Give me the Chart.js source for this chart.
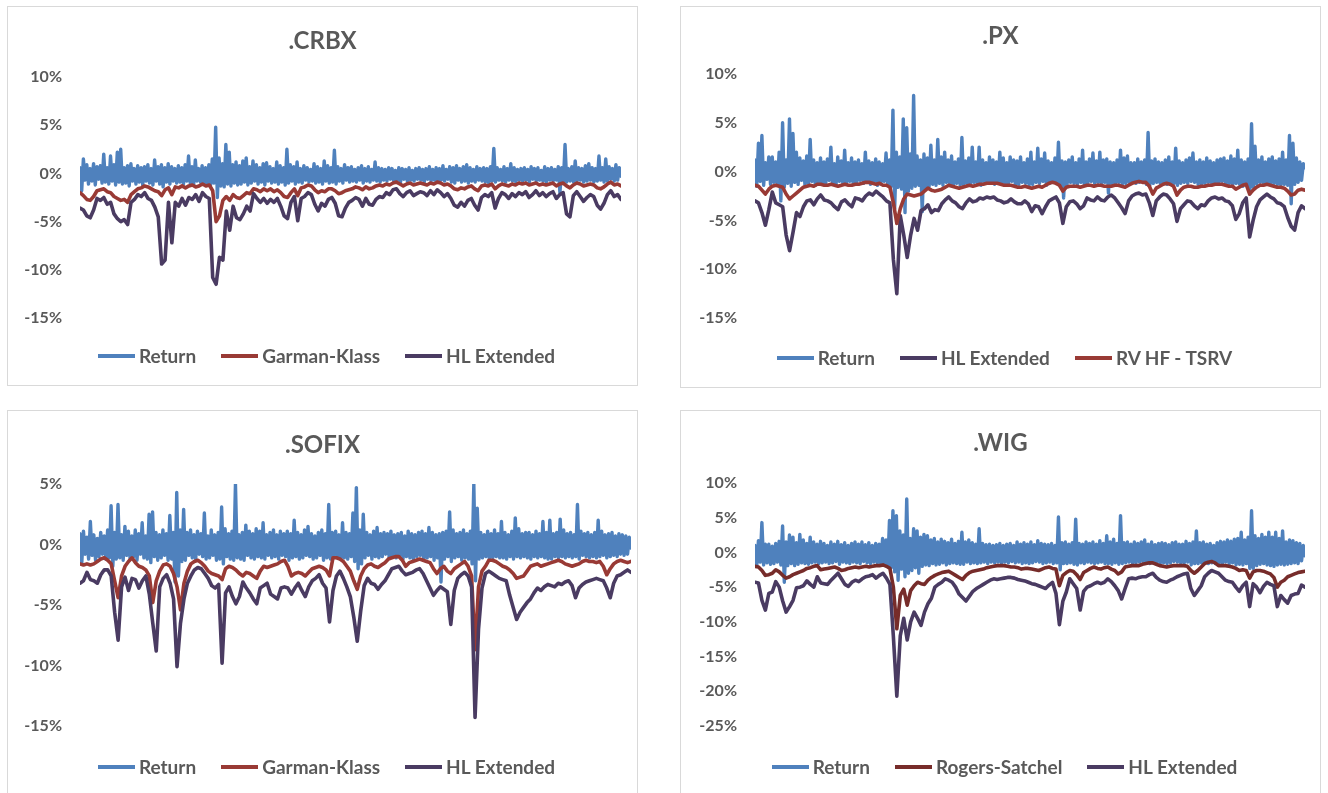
<!DOCTYPE html>
<html>
<head>
<meta charset="utf-8">
<script src="https://cdn.jsdelivr.net/npm/chart.js@4.4.1/dist/chart.umd.min.js"></script>
<style>
body{margin:0;width:1328px;height:793px;overflow:hidden;position:relative;background:#fff;font-family:Lato,"Open Sans",sans-serif}
.panel{position:absolute;border:1px solid #d9d9d9;box-sizing:border-box}
canvas{position:absolute}
.ttl{position:absolute;text-align:center;font-weight:bold;font-size:24px;line-height:28px;color:#595959}
.leg{position:absolute;display:flex;justify-content:center;gap:25px;font-weight:bold;font-size:19px;line-height:22px;color:#595959}
.leg span{display:flex;align-items:center;white-space:nowrap}
.leg i{display:inline-block;width:37px;height:4px;margin-right:4px}
</style>
</head>
<body>

<div class="panel" style="left:7px;top:6px;width:631px;height:380px"></div>
<div class="panel" style="left:680px;top:6px;width:641px;height:382px"></div>
<div class="panel" style="left:7px;top:410px;width:631px;height:400px"></div>
<div class="panel" style="left:680px;top:410px;width:641px;height:400px"></div>

<canvas id="c1" style="left:8px;top:7px" width="629" height="378"></canvas>
<canvas id="c2" style="left:681px;top:7px" width="639" height="380"></canvas>
<canvas id="c3" style="left:8px;top:411px" width="629" height="382"></canvas>
<canvas id="c4" style="left:681px;top:411px" width="639" height="382"></canvas>

<script>

/* ---------------- COLOURS ---------------- */

const blue = "#4f81bd"
const red = "#993a35"
const maroon = "#772c2a"
const purple = "#4a3b62"
const textGrey = "#595959"

/* ---------------- AXES (percent) ---------------- */

const tickStep = 5
const crbxRange = [-15, 10]
const pxRange = [-15, 10]
const sofixRange = [-15, 5]
const wigRange = [-25, 10]

/* daily returns are sampled twice as densely as the volatility lines */

/* ---------------- .CRBX ---------------- */

const crbxReturn = [
0.6,-1.8,1.5,-0.7,0.9,-1.1,0.5,-0.8,1.0,-1.2,0.7,-0.6,0.8,-1.0,2.0,-0.9,0.6,-1.1,1.8,-0.8,
0.9,-1.2,2.2,-0.9,2.5,-1.1,0.6,-1.0,0.8,-1.3,1.0,-0.8,0.5,-1.1,0.8,-0.9,0.6,-1.2,0.7,-0.8,
0.9,-1.0,0.5,-1.2,1.4,-0.8,0.7,-1.1,0.9,-1.4,0.6,-0.9,1.0,-1.1,0.7,-0.8,0.5,-1.0,0.8,-0.9,
0.6,-1.1,0.9,-0.8,1.8,-1.0,0.7,-1.2,1.4,-0.8,0.5,-0.9,0.8,-1.1,0.6,-1.0,0.9,-1.2,1.5,-1.0,
4.8,-2.5,1.6,-1.3,1.0,-1.4,3.0,-1.1,2.2,-1.3,0.9,-1.0,1.2,-1.2,0.8,-1.1,1.3,-0.9,1.6,-1.2,
0.7,-1.0,1.3,-0.8,0.9,-1.1,0.6,-0.9,1.0,-1.2,1.1,-0.8,0.7,-1.0,0.5,-0.9,1.2,-1.1,0.8,-0.9,
0.6,-1.2,2.5,-1.0,0.9,-0.8,0.7,-1.1,1.2,-0.9,0.5,-1.0,0.8,-0.7,0.6,-0.9,0.4,-0.8,1.0,-1.0,
0.7,-0.9,0.5,-1.1,1.3,-0.8,0.8,-1.0,0.6,-0.9,2.4,-1.1,0.7,-0.8,0.5,-1.0,0.9,-0.7,0.6,-0.9,
0.7,-0.8,0.4,-0.9,0.6,-0.7,0.8,-1.0,0.5,-0.8,0.7,-0.9,0.4,-0.7,1.2,-0.8,0.6,-0.9,0.5,-0.7,
0.4,-0.8,0.6,-0.6,0.5,-0.8,0.3,-0.7,0.6,-0.9,0.5,-0.6,0.4,-0.8,0.6,-0.7,0.3,-0.8,0.5,-0.6,
0.6,-0.7,0.4,-0.9,0.5,-0.6,0.7,-0.8,0.4,-0.7,0.6,-0.9,0.5,-0.7,0.8,-0.8,0.4,-0.6,0.7,-0.9,
0.6,-1.0,0.8,-0.7,0.5,-0.9,0.7,-0.8,0.9,-1.0,0.6,-0.8,0.4,-0.9,0.7,-0.7,0.5,-0.8,0.6,-0.9,
0.5,-1.0,0.7,-0.8,2.6,-0.9,0.6,-0.7,0.4,-0.8,0.7,-0.9,0.5,-0.7,1.0,-0.8,0.6,-0.9,0.4,-0.7,
0.5,-0.8,0.6,-0.7,0.4,-0.9,0.7,-0.6,0.5,-0.8,0.6,-0.7,0.3,-0.8,0.7,-0.9,0.5,-0.7,0.6,-0.8,
0.4,-0.7,0.7,-2.0,0.6,-1.0,3.0,-0.9,0.5,-0.8,0.7,-0.9,1.3,-0.8,0.6,-0.7,0.5,-0.9,0.8,-0.8,
1.0,-0.7,0.6,-0.9,0.5,-0.8,1.8,-0.7,0.6,-0.9,1.5,-0.8,0.7,-0.6,0.5,-0.8,0.9,-0.7,0.6,-0.3
]

const crbxGarmanKlass = [
-2.0,-2.3,-2.7,-2.8,-2.4,-1.8,-1.7,-1.6,-1.9,-2.0,
-2.4,-2.6,-2.8,-2.7,-3.0,-2.2,-1.9,-1.6,-1.5,-1.3,
-1.4,-1.6,-1.8,-1.9,-2.3,-1.7,-1.5,-2.2,-1.4,-1.5,
-1.3,-1.5,-1.3,-1.2,-1.4,-1.3,-1.1,-1.3,-1.2,-1.8,
-5.0,-4.4,-2.8,-2.4,-2.8,-2.2,-2.5,-2.6,-2.3,-2.0,
-2.1,-1.6,-1.7,-1.9,-1.6,-1.8,-1.6,-1.9,-1.7,-2.0,
-2.4,-2.5,-2.0,-1.6,-2.3,-1.5,-1.4,-1.2,-1.3,-1.7,
-2.0,-1.8,-1.9,-1.6,-1.6,-1.8,-2.1,-2.0,-1.8,-1.7,
-1.6,-1.4,-1.5,-1.7,-1.4,-1.6,-1.5,-1.3,-1.2,-1.3,
-1.1,-1.2,-1.0,-0.9,-1.1,-1.3,-1.1,-1.0,-1.2,-1.1,
-1.0,-1.1,-1.2,-1.0,-1.1,-0.9,-1.0,-1.2,-1.1,-1.3,
-1.6,-1.7,-1.5,-1.6,-1.4,-1.3,-1.6,-1.8,-1.3,-1.2,
-1.3,-1.1,-1.6,-1.3,-1.1,-1.2,-1.3,-1.1,-1.2,-1.0,
-1.1,-1.0,-1.2,-1.1,-1.0,-1.2,-1.1,-1.2,-1.1,-1.0,
-1.3,-1.1,-1.0,-1.3,-1.5,-1.2,-1.0,-1.1,-1.3,-1.2,
-1.1,-1.2,-1.5,-1.6,-1.4,-1.1,-0.9,-1.2,-1.1,-1.3
]

const crbxHL = [
-3.6,-3.8,-4.4,-4.6,-3.8,-2.6,-2.8,-2.5,-3.2,-3.0,
-4.2,-4.7,-5.0,-4.8,-5.3,-3.0,-2.7,-2.2,-2.4,-2.0,
-2.6,-2.8,-3.5,-4.5,-9.4,-9.0,-3.0,-7.2,-3.0,-3.4,
-2.6,-3.3,-2.5,-2.7,-2.2,-2.9,-2.0,-2.4,-2.6,-10.8,
-11.5,-8.7,-9.0,-3.9,-5.9,-3.4,-4.6,-4.8,-4.2,-3.4,
-3.9,-2.1,-2.6,-3.0,-2.6,-3.1,-2.7,-3.0,-2.6,-3.4,
-4.4,-4.7,-3.0,-2.4,-4.9,-2.6,-2.4,-2.0,-2.2,-3.2,
-3.9,-3.1,-3.4,-2.7,-2.5,-3.1,-4.4,-4.5,-3.6,-3.0,
-2.8,-2.5,-2.7,-3.4,-2.6,-3.2,-3.3,-2.7,-2.4,-2.5,
-2.0,-2.2,-1.7,-1.6,-2.1,-2.4,-2.0,-1.8,-2.3,-2.1,
-1.9,-2.0,-2.3,-1.8,-2.2,-1.7,-2.0,-2.4,-2.1,-2.6,
-3.3,-3.5,-3.0,-3.4,-2.8,-2.6,-3.3,-3.8,-2.5,-2.2,
-2.4,-2.0,-3.6,-2.6,-2.0,-2.2,-2.6,-2.1,-2.4,-2.0,
-2.2,-1.9,-2.5,-2.2,-1.8,-2.3,-2.0,-2.4,-2.1,-1.9,
-2.6,-2.2,-2.0,-4.2,-4.5,-2.3,-1.9,-2.4,-2.9,-2.5,
-2.2,-2.4,-3.3,-3.7,-3.1,-2.2,-1.8,-2.4,-2.2,-2.7
]

/* ---------------- .PX ---------------- */

const pxReturn = [
1.2,-1.5,2.9,-1.0,3.7,-1.4,0.9,-0.8,1.5,-1.3,1.5,-1.1,1.0,-1.4,2.0,-3.0,5.0,-1.6,1.2,-1.2,
5.4,-1.5,3.9,-1.1,2.0,-1.3,1.4,-0.9,1.1,-1.4,1.6,-1.2,3.3,-1.0,1.2,-1.4,0.9,-1.1,1.4,-1.2,
1.0,-1.3,1.3,-0.9,2.5,-1.2,0.8,-1.4,1.5,-1.0,1.1,-1.3,2.2,-1.2,0.9,-1.0,1.4,-1.3,1.0,-1.1,
1.2,-0.9,0.8,-1.2,2.0,-1.1,1.1,-1.3,0.9,-1.0,1.3,-1.4,1.0,-1.2,0.8,-1.0,1.9,-1.3,1.2,-1.5,
6.3,-3.8,2.0,-1.6,1.5,-1.8,5.4,-4.2,4.5,-2.0,1.8,-1.7,7.8,-1.5,1.6,-1.4,1.2,-4.1,1.8,-1.8,
1.4,-1.5,2.7,-1.3,1.2,-1.4,3.3,-1.2,1.5,-1.4,2.0,-1.1,1.2,-1.3,1.6,-1.5,1.0,-1.2,1.3,-1.4,
3.5,-1.4,1.1,-1.2,1.4,-1.3,2.5,-1.1,1.0,-1.2,2.5,-1.4,1.2,-1.0,0.9,-1.2,1.5,-1.1,1.2,-1.3,
1.0,-1.2,2.0,-1.1,1.4,-1.3,0.9,-1.2,1.5,-1.0,1.2,-1.4,1.1,-1.3,1.5,-1.1,0.9,-1.2,1.3,-1.4,
2.0,-1.3,1.0,-1.1,2.4,-1.2,1.3,-1.0,1.9,-1.4,1.1,-1.2,0.9,-1.1,1.4,-1.2,3.0,-1.3,1.1,-2.7,
1.0,-1.3,1.2,-1.1,1.5,-1.2,0.9,-1.3,1.3,-1.1,2.2,-1.4,1.0,-1.2,1.3,-1.0,1.9,-1.2,1.1,-1.1,
2.0,-1.3,1.2,-1.1,1.3,-2.2,1.0,-1.2,0.9,-1.3,1.2,-1.1,2.2,-1.3,1.4,-1.2,1.6,-1.1,0.9,-1.0,
0.9,-1.2,1.3,-1.1,1.0,-1.0,1.2,-1.3,4.0,-1.4,1.1,-1.2,1.3,-1.1,1.0,-1.2,0.9,-1.1,1.2,-1.3,
1.5,-1.3,1.0,-1.2,2.4,-1.4,1.1,-1.2,0.9,-1.1,1.2,-1.2,1.4,-1.0,1.9,-1.1,1.0,-1.3,1.2,-1.3,
1.0,-1.2,1.4,-1.1,1.1,-1.3,0.9,-1.1,1.2,-1.2,1.3,-1.0,1.4,-1.3,1.1,-1.2,1.6,-1.4,1.3,-1.2,
2.2,-1.3,1.2,-1.5,1.0,-1.4,1.3,-2.3,4.9,-1.6,2.6,-1.3,1.2,-1.1,1.5,-1.2,1.0,-1.3,1.3,-1.2,
1.5,-1.2,1.1,-1.3,1.3,-1.4,2.0,-1.3,1.2,-1.4,3.7,-3.3,2.9,-1.3,1.4,-1.1,1.0,-0.9,0.8,0.4
]

const pxHL = [
-3.0,-3.2,-4.2,-5.5,-3.9,-2.1,-3.2,-3.4,-3.6,-6.5,
-8.1,-6.2,-4.2,-4.6,-3.6,-3.0,-2.9,-3.4,-2.8,-2.4,
-2.9,-3.0,-3.2,-3.6,-3.9,-3.1,-2.9,-3.3,-3.6,-2.7,
-2.8,-3.0,-2.5,-2.2,-2.4,-2.0,-2.3,-2.6,-3.0,-3.2,
-9.0,-12.5,-4.5,-6.5,-8.8,-6.5,-4.8,-6.0,-4.0,-3.8,
-3.4,-4.2,-3.9,-4.0,-3.3,-2.9,-2.6,-3.0,-3.2,-3.6,
-3.8,-3.2,-2.8,-3.1,-3.0,-2.7,-2.8,-2.6,-2.7,-2.6,
-2.9,-3.0,-3.2,-3.1,-2.8,-3.1,-3.3,-3.3,-3.0,-3.3,
-4.1,-3.5,-3.6,-4.3,-3.6,-3.0,-2.8,-2.6,-3.2,-5.3,
-3.6,-3.1,-3.0,-3.3,-3.8,-3.5,-2.7,-2.9,-3.0,-2.6,
-2.9,-3.0,-2.6,-2.4,-2.7,-3.2,-3.7,-4.3,-3.0,-2.5,
-2.3,-2.2,-2.4,-2.3,-3.2,-4.5,-3.0,-2.6,-2.3,-2.4,
-2.8,-3.3,-5.1,-3.8,-3.4,-3.0,-3.1,-3.5,-3.8,-3.4,
-3.5,-3.0,-2.7,-2.6,-2.8,-2.7,-3.0,-3.1,-3.5,-4.9,
-4.3,-3.2,-2.7,-6.7,-5.0,-3.6,-2.9,-2.6,-2.3,-2.6,
-2.8,-3.2,-3.3,-3.6,-4.7,-5.6,-6.0,-4.2,-3.5,-3.8
]

const pxTsrv = [
-1.4,-1.5,-1.9,-2.3,-1.8,-1.5,-1.4,-1.5,-1.6,-2.3,
-2.8,-2.5,-2.2,-1.9,-1.6,-1.5,-1.4,-1.5,-1.3,-1.3,
-1.4,-1.4,-1.3,-1.4,-1.5,-1.4,-1.3,-1.4,-1.4,-1.3,
-1.3,-1.2,-1.1,-1.1,-1.2,-1.3,-1.2,-1.4,-1.4,-1.6,
-3.2,-5.3,-3.8,-2.8,-2.3,-2.4,-2.5,-2.4,-2.3,-2.0,
-1.7,-1.9,-2.0,-1.9,-1.8,-1.6,-1.4,-1.5,-1.6,-1.7,
-1.6,-1.5,-1.4,-1.5,-1.4,-1.3,-1.3,-1.2,-1.2,-1.2,
-1.2,-1.3,-1.4,-1.4,-1.4,-1.5,-1.6,-1.6,-1.5,-1.6,
-1.7,-1.6,-1.5,-1.6,-1.4,-1.2,-1.1,-1.2,-1.4,-2.0,
-1.6,-1.5,-1.5,-1.5,-1.6,-1.5,-1.4,-1.4,-1.5,-1.4,
-1.4,-1.5,-1.5,-1.5,-1.4,-1.4,-1.5,-1.6,-1.4,-1.2,
-1.1,-1.0,-1.1,-1.1,-1.5,-2.3,-1.7,-1.5,-1.3,-1.2,
-1.3,-1.5,-2.4,-1.9,-1.6,-1.5,-1.5,-1.6,-1.6,-1.5,
-1.5,-1.4,-1.4,-1.3,-1.3,-1.3,-1.4,-1.5,-1.5,-1.8,
-1.6,-1.4,-1.3,-2.3,-1.9,-1.6,-1.4,-1.4,-1.3,-1.4,
-1.5,-1.6,-1.6,-1.7,-2.0,-2.4,-2.3,-1.9,-1.8,-1.9
]

/* ---------------- .SOFIX ---------------- */

const sofixReturn = [
0.9,-1.6,1.1,-0.8,0.6,-1.2,1.9,-0.9,0.8,-1.3,0.5,-1.0,1.0,-0.8,0.7,-1.2,1.2,-1.1,3.2,-1.8,
1.0,-1.2,3.3,-1.1,0.8,-1.3,1.5,-0.9,1.1,-1.2,0.7,-1.0,1.2,-1.3,0.9,-0.8,1.8,-1.1,0.7,-1.2,
2.5,-1.5,2.7,-1.0,1.0,-1.3,0.8,-1.1,1.2,-0.9,0.9,-1.3,2.4,-1.2,1.0,-3.1,4.3,-2.6,1.2,-1.4,
2.9,-1.3,1.0,-0.9,1.2,-1.1,0.8,-1.2,1.1,-0.8,0.9,-1.0,2.6,-1.2,0.7,-1.1,1.2,-0.9,0.8,-1.3,
1.0,-1.2,3.1,-1.6,1.3,-1.0,0.9,-1.2,1.1,-1.3,5.0,-1.1,0.8,-1.2,1.0,-1.3,1.6,-0.9,1.1,-1.1,
0.9,-1.2,1.3,-1.0,1.1,-1.1,1.8,-1.2,0.8,-0.9,1.0,-1.1,1.2,-1.0,0.8,-1.2,1.1,-0.9,0.9,-1.0,
1.1,-1.3,0.9,-1.1,2.0,-1.0,1.0,-1.2,0.8,-1.1,1.2,-0.9,1.5,-1.0,0.9,-1.2,0.7,-1.1,1.0,-0.9,
1.2,-1.3,0.9,-1.1,3.3,-1.2,1.0,-0.9,1.1,-1.0,0.8,-1.2,1.8,-1.1,1.0,-1.2,0.9,-1.0,2.6,-1.4,
4.7,-2.0,1.2,-1.6,2.5,-1.1,1.0,-0.9,0.8,-1.2,1.1,-1.0,1.4,-1.1,0.9,-1.0,1.0,-0.8,0.9,-1.1,
1.1,-1.0,0.8,-1.1,0.9,-0.9,1.0,-1.2,0.7,-1.0,1.1,-1.1,0.9,-1.2,0.8,-1.0,1.0,-0.9,1.1,-1.2,
0.9,-1.1,1.4,-1.0,1.0,-1.3,0.8,-1.1,0.9,-3.1,1.0,-1.2,1.1,-1.0,2.7,-1.4,1.2,-1.1,0.9,-1.0,
1.0,-1.3,1.2,-1.1,0.9,-1.2,1.1,-1.6,5.0,-3.0,3.0,-1.2,1.0,-1.1,0.8,-1.0,1.1,-1.2,0.9,-1.1,
1.2,-1.0,0.9,-1.1,1.9,-1.1,1.0,-1.2,0.8,-1.0,1.1,-1.2,2.2,-1.0,1.3,-1.1,0.9,-1.0,1.0,-1.1,
1.0,-1.2,0.8,-1.0,1.1,-1.1,0.9,-1.0,1.9,-1.1,1.0,-1.2,2.0,-1.2,0.9,-1.0,1.0,-1.1,2.1,-1.0,
1.2,-1.1,0.9,-1.0,1.0,-1.1,0.8,-1.0,3.3,-1.2,1.1,-0.9,0.9,-1.0,1.0,-1.1,0.8,-1.0,1.0,-1.1,
2.0,-1.0,1.1,-0.9,0.8,-1.1,0.9,-1.0,1.0,-0.9,0.7,-1.0,0.9,-0.8,0.8,-0.9,0.7,-0.8,0.6,-0.3
]

const sofixGarmanKlass = [
-1.6,-1.7,-1.6,-1.7,-1.6,-1.4,-1.2,-1.1,-1.3,-1.6,
-3.0,-4.4,-2.6,-1.8,-1.4,-1.1,-1.5,-1.8,-1.9,-2.1,
-2.6,-4.8,-3.0,-2.2,-1.7,-1.6,-1.8,-2.4,-3.5,-5.4,
-3.2,-2.2,-1.6,-1.4,-1.3,-1.5,-1.8,-2.2,-2.4,-2.5,
-2.6,-2.9,-2.0,-1.8,-1.9,-2.1,-2.4,-2.6,-2.3,-2.4,
-2.6,-2.8,-2.2,-1.8,-1.9,-1.8,-1.7,-1.6,-1.4,-1.3,
-1.8,-2.6,-2.4,-2.3,-2.4,-2.6,-2.3,-2.0,-1.9,-1.8,
-1.9,-2.1,-2.6,-1.1,-1.1,-1.2,-1.4,-1.8,-2.2,-3.0,
-3.7,-2.6,-2.0,-1.7,-1.6,-1.8,-1.9,-1.7,-1.5,-1.2,
-1.1,-1.0,-1.0,-1.3,-1.8,-1.5,-1.4,-1.3,-1.2,-1.3,
-1.4,-1.5,-2.0,-2.4,-2.0,-1.8,-2.2,-2.4,-2.0,-1.8,
-1.6,-1.4,-1.8,-2.6,-8.7,-3.5,-2.2,-1.8,-1.3,-1.3,
-1.4,-1.6,-1.8,-1.9,-2.1,-2.4,-2.8,-2.7,-2.6,-2.2,
-1.8,-1.7,-1.6,-1.8,-1.7,-1.6,-1.5,-1.4,-1.3,-1.4,
-1.6,-1.7,-1.8,-1.7,-1.6,-1.4,-1.3,-1.4,-1.4,-1.5,
-1.4,-1.8,-2.5,-2.0,-1.6,-1.4,-1.3,-1.4,-1.5,-1.4
]

const sofixHL = [
-3.2,-3.0,-2.3,-2.9,-3.0,-3.2,-2.5,-2.1,-2.1,-2.6,
-5.6,-7.9,-3.5,-2.7,-3.8,-2.8,-2.9,-3.6,-3.0,-2.6,
-4.1,-6.5,-8.8,-3.5,-2.8,-2.5,-3.2,-4.5,-10.1,-6.5,
-4.5,-3.2,-2.6,-2.1,-1.9,-2.0,-2.4,-2.8,-3.4,-3.6,
-3.3,-9.8,-4.0,-3.5,-4.3,-4.9,-4.3,-3.1,-3.6,-4.0,
-4.5,-4.9,-3.6,-3.4,-3.2,-4.1,-4.3,-4.5,-3.6,-3.5,
-3.6,-4.1,-3.6,-3.2,-3.8,-4.3,-3.5,-3.0,-2.8,-2.5,
-3.2,-3.6,-6.4,-3.8,-2.6,-2.2,-2.8,-3.5,-4.3,-6.0,
-8.0,-5.5,-3.4,-2.8,-3.2,-3.3,-3.7,-3.3,-3.0,-2.5,
-2.0,-1.9,-1.8,-2.2,-2.5,-2.4,-2.3,-2.1,-2.0,-2.4,
-3.0,-3.6,-4.2,-3.8,-3.5,-3.7,-3.9,-6.6,-3.8,-2.8,
-2.5,-2.3,-2.6,-3.5,-14.3,-7.0,-3.6,-2.4,-2.2,-2.4,
-2.6,-2.8,-2.9,-3.0,-4.2,-5.2,-6.2,-5.6,-5.2,-4.8,
-4.5,-4.0,-3.6,-3.8,-3.5,-3.3,-3.4,-3.5,-3.2,-3.3,
-3.1,-3.0,-3.4,-4.4,-3.6,-3.3,-3.1,-3.0,-2.9,-2.8,
-2.9,-3.0,-3.6,-4.4,-3.2,-2.6,-2.5,-2.3,-2.1,-2.3
]

/* ---------------- .WIG ---------------- */

const wigReturn = [
1.0,-2.0,1.7,-1.4,4.3,-1.8,1.2,-1.5,1.2,-1.7,0.9,-1.6,1.3,-1.4,1.6,-1.8,3.8,-4.3,1.5,-1.9,
2.5,-1.6,2.2,-1.9,1.4,-1.7,2.6,-1.5,1.8,-1.6,1.3,-1.7,2.2,-1.5,1.5,-1.4,1.2,-1.6,1.6,-1.5,
1.3,-1.4,1.0,-1.6,1.5,-1.5,1.2,-1.3,1.6,-1.7,1.1,-1.4,1.4,-1.5,1.0,-1.6,1.3,-1.4,1.5,-1.5,
1.2,-1.6,1.5,-1.3,1.1,-1.5,1.4,-1.6,1.0,-1.4,1.3,-1.5,1.2,-1.7,2.0,-1.6,1.8,-2.0,4.6,-2.2,
6.0,-2.8,5.3,-4.0,3.1,-2.4,2.5,-3.5,7.7,-3.0,2.0,-2.6,3.4,-2.2,3.1,-3.0,2.2,-2.0,2.6,-1.8,
2.4,-1.9,1.8,-1.6,2.0,-1.8,1.5,-1.7,1.9,-1.5,1.6,-1.8,1.4,-1.6,1.9,-1.5,1.3,-1.6,1.6,-1.7,
2.9,-1.7,1.5,-1.4,1.8,-1.6,1.4,-1.5,1.2,-1.6,3.4,-1.5,1.3,-1.4,1.1,-1.6,1.2,-1.4,1.0,-1.5,
1.1,-1.4,1.3,-1.6,1.0,-1.4,1.2,-1.5,1.3,-1.3,1.0,-1.5,1.5,-1.4,1.2,-1.6,1.4,-1.5,1.2,-1.6,
1.5,-1.5,1.1,-1.3,1.7,-1.4,1.3,-1.6,1.2,-1.5,1.1,-1.4,1.3,-1.6,1.0,-1.5,5.1,-2.5,1.4,-1.6,
1.5,-1.6,1.2,-1.5,1.4,-1.7,4.8,-1.8,1.3,-1.5,1.2,-1.6,1.5,-1.4,1.3,-1.5,1.5,-1.6,1.2,-1.5,
1.7,-1.4,1.3,-1.6,2.4,-1.6,1.5,-1.7,1.9,-1.5,1.3,-1.7,5.3,-1.6,1.4,-1.5,1.5,-1.4,1.2,-1.6,
1.5,-1.5,1.3,-1.4,1.5,-1.3,1.8,-1.4,1.2,-1.6,1.5,-1.5,1.1,-1.4,1.3,-1.6,1.4,-1.5,1.3,-1.6,
1.1,-1.5,1.4,-1.3,1.5,-1.4,1.2,-1.6,1.2,-1.5,1.6,-1.4,1.3,-1.8,1.5,-1.6,3.1,-1.6,1.4,-1.5,
1.5,-1.4,1.2,-1.6,1.3,-1.5,1.0,-1.6,1.4,-1.5,1.6,-1.7,1.5,-1.4,1.8,-1.7,1.6,-1.5,1.9,-1.8,
2.0,-1.7,2.9,-1.8,1.8,-1.6,2.2,-2.3,6.0,-2.3,2.4,-1.9,2.0,-1.7,2.6,-1.6,2.2,-1.8,2.9,-1.9,
2.2,-2.0,2.9,-1.8,2.0,-1.7,3.1,-1.8,1.5,-1.7,1.8,-1.6,1.7,-1.5,1.4,-1.6,1.3,-1.2,1.0,-0.5
]

const wigRogersSatchel = [
-2.0,-2.1,-2.6,-3.3,-3.2,-3.0,-2.5,-2.8,-3.3,-3.7,
-3.5,-3.2,-3.0,-2.8,-2.6,-2.3,-2.2,-2.0,-1.9,-2.5,
-2.4,-2.3,-2.2,-2.1,-2.3,-2.6,-2.5,-2.3,-2.2,-2.1,
-2.2,-2.1,-2.0,-2.1,-2.0,-1.9,-1.9,-1.8,-2.0,-2.3,
-5.0,-11.0,-6.2,-5.3,-7.6,-5.5,-4.8,-4.3,-4.5,-4.6,
-4.0,-3.6,-3.3,-3.1,-2.9,-2.8,-2.7,-3.0,-3.3,-3.6,
-3.9,-3.3,-2.9,-2.7,-2.6,-2.5,-2.4,-2.2,-2.1,-2.0,
-1.9,-1.9,-1.9,-2.0,-2.1,-2.1,-2.2,-2.4,-2.3,-2.3,
-2.4,-2.5,-2.6,-2.4,-2.2,-2.1,-2.3,-2.4,-4.8,-3.3,
-2.9,-2.6,-2.7,-3.2,-3.9,-2.9,-2.6,-2.3,-2.1,-2.3,
-2.4,-2.2,-2.1,-2.4,-2.6,-3.1,-2.8,-2.1,-2.0,-1.9,
-1.9,-1.9,-1.7,-1.6,-1.5,-1.5,-1.7,-1.9,-2.0,-2.1,
-2.0,-1.9,-1.9,-1.9,-1.9,-2.0,-2.6,-3.0,-2.6,-2.1,
-1.6,-1.4,-1.3,-1.5,-1.9,-1.9,-1.9,-2.0,-2.1,-2.3,
-2.6,-2.5,-2.6,-3.7,-2.8,-2.6,-2.6,-2.7,-2.9,-3.1,
-3.6,-5.0,-4.3,-4.0,-3.5,-3.3,-3.1,-2.9,-2.8,-2.7
]

const wigHL = [
-4.3,-4.4,-6.9,-8.3,-5.9,-5.7,-4.2,-5.0,-7.0,-8.6,
-7.8,-6.9,-5.1,-5.0,-4.8,-4.1,-4.6,-5.0,-3.5,-4.4,
-4.5,-4.6,-4.0,-3.5,-3.0,-3.8,-4.6,-4.9,-4.3,-4.0,
-4.2,-3.8,-3.5,-3.4,-3.2,-3.7,-3.3,-3.0,-3.7,-4.6,
-12.1,-20.7,-12.0,-9.5,-12.6,-10.0,-8.6,-9.5,-10.5,-8.6,
-7.4,-6.6,-5.0,-4.6,-4.3,-3.8,-4.0,-4.3,-5.0,-6.0,
-6.5,-7.0,-6.3,-5.6,-5.2,-4.9,-4.6,-4.3,-4.0,-3.8,
-3.9,-3.8,-3.7,-3.6,-3.6,-3.7,-3.9,-4.0,-4.1,-4.3,
-4.5,-4.6,-4.8,-5.0,-5.2,-4.7,-4.3,-5.9,-10.4,-7.0,
-5.7,-3.8,-4.5,-5.2,-8.3,-5.6,-5.0,-4.8,-4.5,-4.3,
-4.5,-4.3,-3.8,-4.2,-4.8,-5.5,-6.7,-5.2,-3.8,-3.7,
-3.8,-3.6,-3.5,-3.5,-3.2,-3.0,-3.6,-4.0,-4.2,-4.3,
-4.0,-3.8,-3.5,-3.3,-3.1,-3.0,-5.2,-6.2,-5.5,-4.8,
-3.5,-3.0,-2.6,-2.8,-3.0,-3.5,-4.0,-4.2,-4.3,-5.0,
-5.6,-4.8,-4.3,-7.8,-4.5,-5.0,-5.8,-4.9,-4.3,-4.6,
-4.8,-7.8,-6.2,-6.8,-7.3,-6.2,-6.0,-5.9,-4.7,-5.0
]

/* ---------------- PANELS ---------------- */

const panels = [
{
canvas:"c1", title:".CRBX", range:crbxRange, axisWidth:72,
pad:{top:70,bottom:67,right:16},
box:{left:7,width:631,titleTop:26,legendTop:345},
series:[["Return",crbxReturn,blue],["Garman-Klass",crbxGarmanKlass,red],["HL Extended",crbxHL,purple]]
},
{
canvas:"c2", title:".PX", range:pxRange, axisWidth:74,
pad:{top:67,bottom:69,right:15},
box:{left:680,width:641,titleTop:21,legendTop:347},
series:[["Return",pxReturn,blue],["HL Extended",pxHL,purple],["RV HF - TSRV",pxTsrv,red]]
},
{
canvas:"c3", title:".SOFIX", range:sofixRange, axisWidth:72,
pad:{top:73,bottom:67,right:6},
box:{left:7,width:631,titleTop:430,legendTop:756},
series:[["Return",sofixReturn,blue],["Garman-Klass",sofixGarmanKlass,red],["HL Extended",sofixHL,purple]]
},
{
canvas:"c4", title:".WIG", range:wigRange, axisWidth:74,
pad:{top:72,bottom:67,right:15},
box:{left:680,width:641,titleTop:428,legendTop:756},
series:[["Return",wigReturn,blue],["Rogers-Satchel",wigRogersSatchel,maroon],["HL Extended",wigHL,purple]]
}
]

panels.forEach(drawPanel)

function drawPanel(p){

/* every series spans the same date range; x is position along it */
const span = p.series[1][1].length - 1

new Chart(document.getElementById(p.canvas),{

type:"line",

data:{
datasets:p.series.map((s,k)=>({
label:s[0],
data:s[1].map((v,i)=>({x:i*span/(s[1].length-1), y:v})),
borderColor:s[2],
backgroundColor:s[2],
borderWidth:s[0]==="Return"?3.4:3.6,
pointRadius:0,
tension:0,
borderJoinStyle:"round",
borderCapStyle:"round",
order:p.series.length-k
}))
},

options:{
responsive:false,
animation:false,
events:[],
layout:{padding:{top:p.pad.top,bottom:p.pad.bottom,right:p.pad.right,left:0}},
plugins:{legend:{display:false},title:{display:false},tooltip:{enabled:false}},
scales:{
x:{type:"linear",display:false,min:0,max:span},
y:{
min:p.range[0],
max:p.range[1],
afterFit:s=>{ s.width = p.axisWidth },
grid:{display:false},
border:{display:false},
ticks:{
stepSize:tickStep,
padding:10,
color:textGrey,
font:{family:"Lato",size:16,weight:"bold"},
callback:v=>v+"%"
}
}
}
}

})

/* title + legend as text */

const t = document.createElement("div")
t.className = "ttl"
t.style.left = p.box.left+"px"
t.style.width = p.box.width+"px"
t.style.top = p.box.titleTop+"px"
t.textContent = p.title
document.body.appendChild(t)

const lg = document.createElement("div")
lg.className = "leg"
lg.style.left = (p.box.left+4)+"px"
lg.style.width = p.box.width+"px"
lg.style.top = p.box.legendTop+"px"
p.series.forEach(s=>{
const it = document.createElement("span")
it.innerHTML = `<i style="background:${s[2]}"></i>${s[0]}`
lg.appendChild(it)
})
document.body.appendChild(lg)

}

</script>
</body>
</html>
